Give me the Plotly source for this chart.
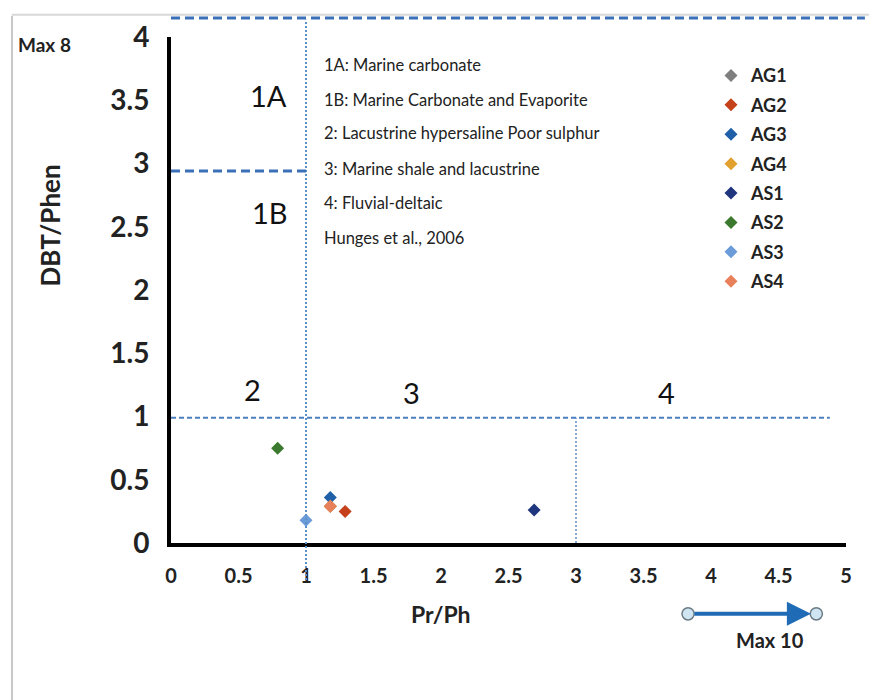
import plotly.graph_objects as go

# ---- data ----
samples = ["AG1", "AG2", "AG3", "AG4", "AS1", "AS2", "AS3", "AS4"]
pr_ph = [1.18, 1.29, 1.18, 1.18, 2.69, 0.79, 1.00, 1.18]
dbt_phen = [0.29, 0.25, 0.36, 0.29, 0.26, 0.75, 0.18, 0.29]
colors = ["#7f7f7f", "#c5411b", "#1f60a8", "#e2a02e", "#1f367f", "#3b7a2e", "#6b9bd8", "#e9805c"]

x_ticks = [0, 0.5, 1, 1.5, 2, 2.5, 3, 3.5, 4, 4.5, 5]
y_ticks = [0, 0.5, 1, 1.5, 2, 2.5, 3, 3.5, 4]

zone_labels = ["1A", "1B", "2", "3", "4"]
zone_x = [0.72, 0.73, 0.60, 1.78, 3.67]
zone_y = [3.54, 2.61, 1.21, 1.19, 1.19]

notes = ["1A: Marine carbonate", "1B: Marine Carbonate and Evaporite",
         "2: Lacustrine hypersaline Poor sulphur", "3: Marine shale and lacustrine",
         "4: Fluvial-deltaic", "Hunges et al., 2006"]
notes_y = [3.78, 3.50, 3.24, 2.96, 2.69, 2.41]

FONT = "Lato"
fig = go.Figure()

for name, xv, yv, c in zip(samples, pr_ph, dbt_phen, colors):
    fig.add_trace(go.Scatter(
        x=[xv], y=[yv], mode="markers", name="<b>" + name + "</b>",
        legendgroup=name,
        marker=dict(symbol="diamond", size=10, color=c),
        cliponaxis=False,
    ))

blue = "#4a7fc0"
shapes = [
    # outer light frame
    dict(type="line", xref="paper", yref="paper", x0=-0.2356, x1=-0.2356, y0=1.042, y1=-0.33,
         line=dict(color="#c8c8c8", width=2)),
    dict(type="line", xref="paper", yref="paper", x0=-0.2356, x1=1.04, y0=1.044, y1=1.044,
         line=dict(color="#d8d8d8", width=2)),
    # vertical boundary at Pr/Ph = 1
    dict(type="line", xref="x", yref="paper", x0=1, x1=1, y0=-0.073, y1=1.034,
         line=dict(color="#5b8fc8", width=2, dash="2px,2px")),
    # horizontal boundary at DBT/Phen = 1
    dict(type="line", xref="x", yref="y", x0=0, x1=4.88, y0=0.99, y1=0.99,
         line=dict(color=blue, width=2, dash="5px,3px")),
    # vertical boundary at Pr/Ph = 3
    dict(type="line", xref="x", yref="y", x0=3, x1=3, y0=0, y1=0.99,
         line=dict(color="#5b8fc8", width=1.5, dash="2px,2px")),
    # 1A / 1B boundary
    dict(type="line", xref="x", yref="y", x0=0, x1=1, y0=2.94, y1=2.94,
         line=dict(color="#3a70b8", width=3, dash="9px,5px")),
    # top boundary
    dict(type="line", xref="paper", yref="paper", x0=0, x1=1.028, y0=1.0375, y1=1.0375,
         line=dict(color="#3a70b8", width=3, dash="9px,5px")),
    # arrow circles
    dict(type="circle", xref="paper", yref="paper", x0=0.766 - 0.009, x1=0.766 + 0.009,
         y0=-0.140 - 0.012, y1=-0.140 + 0.012,
         line=dict(color="#6b7b85", width=1.5), fillcolor="#cfe6f2"),
    dict(type="circle", xref="paper", yref="paper", x0=0.956 - 0.009, x1=0.956 + 0.009,
         y0=-0.140 - 0.012, y1=-0.140 + 0.012,
         line=dict(color="#6b7b85", width=1.5), fillcolor="#cfe6f2"),
]

annotations = []
for t, xv, yv in zip(zone_labels, zone_x, zone_y):
    annotations.append(dict(x=xv, y=yv, xref="x", yref="y", text=t, showarrow=False,
                            xanchor="center", yanchor="middle",
                            font=dict(family=FONT, size=29, color="#111111")))
for t, yv in zip(notes, notes_y):
    annotations.append(dict(x=1.12, y=yv, xref="x", yref="y", text=t, showarrow=False,
                            xanchor="left", yanchor="middle",
                            font=dict(family=FONT, size=16.5, color="#222222")))

annotations += [
    dict(x=-0.187, y=0.986, xref="paper", yref="paper", text="<b>Max 8</b>", showarrow=False,
         xanchor="center", yanchor="middle",
         font=dict(family=FONT, size=19, color="#222222")),
    dict(x=0.887, y=-0.192, xref="paper", yref="paper", text="<b>Max 10</b>", showarrow=False,
         xanchor="center", yanchor="middle",
         font=dict(family=FONT, size=20, color="#222222")),
    dict(x=-0.179, y=0.628, xref="paper", yref="paper", text="<b>DBT/Phen</b>", showarrow=False,
         xanchor="center", yanchor="middle",
         textangle=-90, font=dict(family=FONT, size=26, color="#222222")),
    dict(x=2.0, y=-0.14, xref="x", yref="paper", text="<b>Pr/Ph</b>", showarrow=False,
         xanchor="center", yanchor="middle",
         font=dict(family=FONT, size=23, color="#222222")),
    # arrow
    dict(x=0.948, y=-0.140, ax=-118, ay=0, xref="paper", yref="paper",
         text="", showarrow=True, arrowhead=2,
         arrowsize=1.2, arrowwidth=4, arrowcolor="#1f6bb5", standoff=0, startstandoff=0),
]

fig.update_layout(
    width=869, height=700,
    margin=dict(l=171, r=23, t=37, b=157),
    paper_bgcolor="white", plot_bgcolor="white",
    showlegend=True,
    legend=dict(x=0.80, y=0.96, xanchor="left", yanchor="top",
                traceorder="grouped", tracegroupgap=3,
                font=dict(family=FONT, size=18, color="#222222"),
                bgcolor="rgba(0,0,0,0)", itemwidth=30),
    shapes=shapes,
    annotations=annotations,
    xaxis=dict(range=[0, 5], tickvals=x_ticks, ticktext=[f"{v:g}" for v in x_ticks],
               showgrid=False, zeroline=False, showline=True, linecolor="black", linewidth=4,
               ticks="", ticklabelstandoff=12,
               tickfont=dict(family=FONT, size=20, color="#222222", weight="bold")),
    yaxis=dict(range=[0, 4], tickvals=y_ticks, ticktext=[f"{v:g}" for v in y_ticks],
               showgrid=False, zeroline=False, showline=True, linecolor="black", linewidth=4,
               ticks="", ticklabelstandoff=12,
               tickfont=dict(family=FONT, size=28, color="#222222", weight="bold")),
)

fig.write_html("out.html")
